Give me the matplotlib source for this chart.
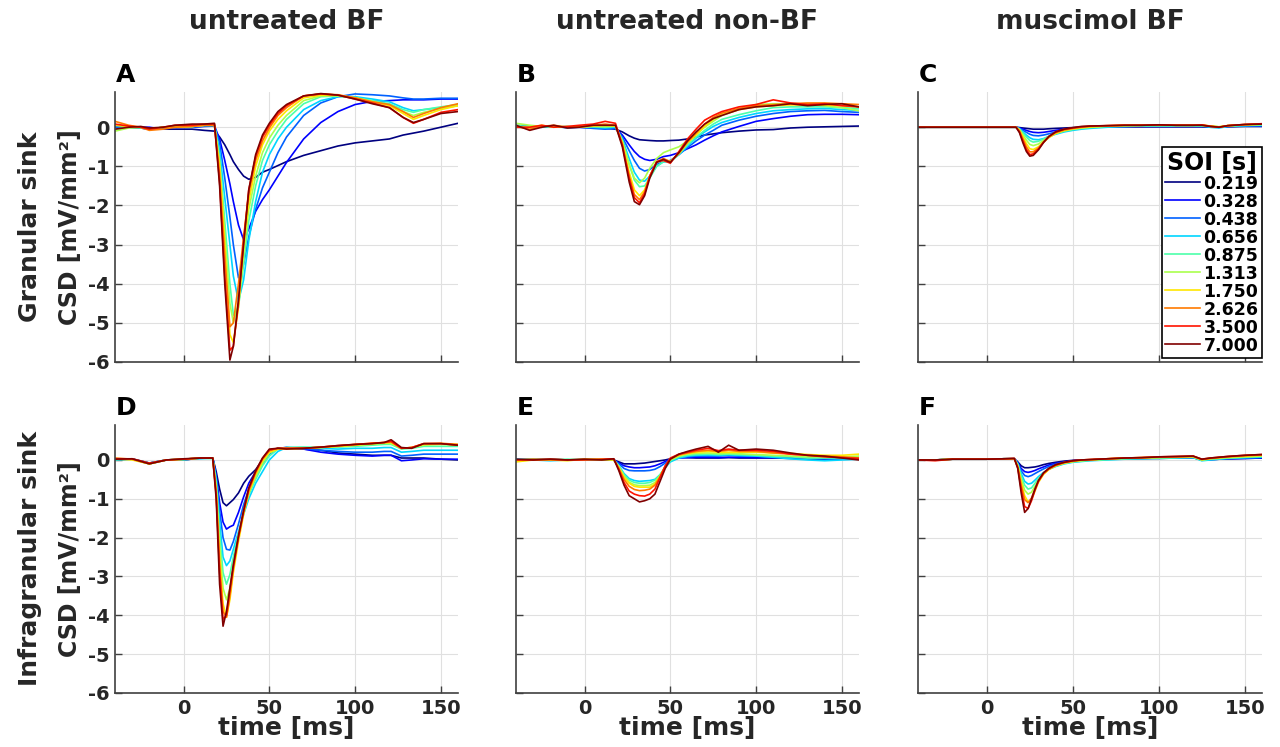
import numpy as np
import matplotlib
matplotlib.use("Agg")
import matplotlib.pyplot as plt

# ---- labels ----
soi = ['0.219', '0.328', '0.438', '0.656', '0.875',
       '1.313', '1.750', '2.626', '3.500', '7.000']
col_titles = ['untreated BF', 'untreated non-BF', 'muscimol BF']
row_labels = ['Granular sink', 'Infragranular sink']
panel_letters = ['A', 'B', 'C', 'D', 'E', 'F']

# ---- A: granular, untreated BF ----
t_A = [-40, -32, -25, -20, -12, -5, 5, 12, 18, 21, 24, 27, 29, 32, 35, 38, 42, 46,
       50, 55, 60, 70, 80, 90, 100, 110, 120, 128, 134, 140, 150, 160]
csd_A = [
    [0.0, 0.0, -0.02, -0.05, -0.05, -0.05, -0.05, -0.08, -0.1, -0.25, -0.45, -0.7, -0.88, -1.08, -1.25, -1.33,
     -1.28, -1.15, -1.08, -0.98, -0.88, -0.72, -0.6, -0.48, -0.4, -0.35, -0.3, -0.2, -0.15, -0.1, 0.0, 0.1],
    [0.05, 0.02, 0.0, 0.0, -0.05, 0.0, 0.0, 0.02, 0.03, -0.3, -0.85, -1.45, -1.9, -2.5, -2.88, -2.6,
     -2.15, -1.85, -1.6, -1.25, -0.9, -0.3, 0.12, 0.4, 0.58, 0.66, 0.68, 0.7, 0.7, 0.7, 0.72, 0.72],
    [0.0, 0.0, -0.02, -0.05, -0.02, 0.0, 0.0, 0.03, 0.03, -0.4, -1.3, -2.3, -3.0, -3.85, -3.5, -2.8,
     -2.1, -1.55, -1.15, -0.65, -0.25, 0.3, 0.62, 0.78, 0.85, 0.83, 0.8, 0.75, 0.72, 0.72, 0.74, 0.74],
    [0.05, 0.0, 0.0, -0.05, 0.0, 0.02, 0.02, 0.05, 0.05, -0.6, -1.8, -3.0, -3.8, -4.45, -3.9, -2.9,
     -1.9, -1.15, -0.7, -0.3, 0.0, 0.45, 0.68, 0.78, 0.78, 0.72, 0.65, 0.5, 0.42, 0.45, 0.5, 0.55],
    [-0.05, 0.0, -0.02, -0.05, 0.0, 0.02, 0.02, 0.05, 0.05, -0.8, -2.4, -4.0, -4.8, -4.6, -3.5, -2.4,
     -1.5, -0.85, -0.45, -0.1, 0.2, 0.6, 0.78, 0.8, 0.76, 0.68, 0.6, 0.45, 0.38, 0.45, 0.52, 0.58],
    [-0.1, -0.02, 0.0, -0.05, 0.0, 0.0, 0.02, 0.05, 0.05, -0.9, -2.7, -4.5, -5.0, -4.5, -3.2, -2.1,
     -1.25, -0.65, -0.28, 0.05, 0.3, 0.68, 0.8, 0.8, 0.75, 0.66, 0.56, 0.4, 0.3, 0.38, 0.48, 0.55],
    [0.05, 0.02, 0.0, -0.05, 0.0, 0.0, 0.02, 0.05, 0.05, -1.0, -3.0, -5.3, -5.5, -4.6, -3.1, -1.9,
     -1.0, -0.45, -0.1, 0.2, 0.42, 0.75, 0.82, 0.82, 0.75, 0.65, 0.55, 0.35, 0.2, 0.3, 0.45, 0.55],
    [0.15, 0.05, 0.0, -0.08, -0.05, 0.0, 0.02, 0.05, 0.05, -1.2, -3.3, -5.1, -5.0, -4.0, -2.8, -1.7,
     -0.85, -0.35, -0.02, 0.3, 0.5, 0.8, 0.85, 0.83, 0.75, 0.65, 0.58, 0.4, 0.25, 0.35, 0.5, 0.6],
    [0.08, 0.03, 0.0, -0.05, 0.0, 0.05, 0.05, 0.08, 0.08, -1.4, -3.8, -5.7, -5.6, -4.5, -2.9, -1.6,
     -0.75, -0.25, 0.05, 0.35, 0.55, 0.8, 0.85, 0.82, 0.72, 0.62, 0.5, 0.25, 0.1, 0.2, 0.38, 0.45],
    [-0.05, 0.0, 0.02, -0.02, 0.0, 0.05, 0.08, 0.08, 0.1, -1.5, -4.0, -5.95, -5.6, -4.4, -3.0, -1.6,
     -0.7, -0.2, 0.1, 0.4, 0.58, 0.8, 0.86, 0.82, 0.72, 0.6, 0.5, 0.25, 0.12, 0.2, 0.35, 0.4],
]

# ---- B: granular, untreated non-BF ----
t_B = [-40, -32, -25, -18, -10, -3, 5, 12, 18, 22, 26, 29, 32, 35, 38, 42, 46, 50,
       55, 60, 65, 70, 75, 80, 90, 100, 110, 120, 130, 140, 150, 160]
csd_B = [
    [0.0, 0.02, 0.0, 0.02, 0.0, 0.0, 0.0, -0.02, -0.05, -0.12, -0.22, -0.28, -0.32, -0.33, -0.34, -0.35,
     -0.35, -0.34, -0.33, -0.3, -0.25, -0.2, -0.17, -0.14, -0.1, -0.07, -0.06, -0.02, 0.0, 0.01, 0.02, 0.03],
    [0.02, 0.0, 0.0, 0.02, 0.0, 0.0, -0.02, -0.03, -0.03, -0.2, -0.45, -0.62, -0.75, -0.82, -0.85, -0.82,
     -0.75, -0.72, -0.65, -0.55, -0.45, -0.33, -0.22, -0.12, 0.02, 0.15, 0.22, 0.28, 0.32, 0.33, 0.33, 0.32],
    [0.05, 0.02, 0.0, 0.03, -0.02, 0.0, -0.03, -0.05, -0.03, -0.25, -0.6, -0.85, -1.05, -1.12, -1.08, -0.95,
     -0.88, -0.85, -0.7, -0.52, -0.35, -0.2, -0.08, 0.05, 0.18, 0.28, 0.35, 0.4, 0.42, 0.43, 0.4, 0.38],
    [0.0, 0.03, 0.0, 0.0, 0.02, 0.0, 0.0, -0.02, 0.0, -0.3, -0.8, -1.15, -1.35, -1.38, -1.25, -1.0,
     -0.88, -0.88, -0.7, -0.48, -0.28, -0.12, 0.02, 0.12, 0.25, 0.35, 0.42, 0.45, 0.47, 0.48, 0.45, 0.43],
    [0.05, 0.0, 0.03, 0.0, 0.0, 0.0, 0.02, 0.0, 0.02, -0.35, -0.95, -1.35, -1.52, -1.5, -1.3, -1.0,
     -0.88, -0.87, -0.68, -0.45, -0.25, -0.08, 0.08, 0.2, 0.32, 0.42, 0.5, 0.52, 0.52, 0.52, 0.5, 0.48],
    [0.1, 0.05, 0.02, 0.03, 0.0, 0.02, 0.02, 0.02, 0.03, -0.35, -0.95, -1.3, -1.42, -1.3, -1.05, -0.8,
     -0.65, -0.58, -0.5, -0.35, -0.18, 0.0, 0.15, 0.3, 0.45, 0.58, 0.6, 0.6, 0.6, 0.55, 0.5, 0.42],
    [0.0, 0.0, 0.05, 0.0, 0.02, 0.0, 0.03, 0.05, 0.03, -0.4, -1.15, -1.6, -1.75, -1.6, -1.25, -0.9,
     -0.82, -0.88, -0.68, -0.4, -0.2, 0.02, 0.2, 0.32, 0.45, 0.52, 0.55, 0.57, 0.57, 0.57, 0.55, 0.52],
    [0.02, -0.05, 0.02, 0.05, 0.0, 0.02, 0.05, 0.08, 0.05, -0.45, -1.25, -1.72, -1.85, -1.65, -1.25, -0.88,
     -0.8, -0.88, -0.66, -0.38, -0.15, 0.08, 0.25, 0.36, 0.48, 0.55, 0.58, 0.6, 0.62, 0.62, 0.6, 0.58],
    [0.0, 0.0, 0.05, 0.0, 0.02, 0.05, 0.08, 0.15, 0.1, -0.45, -1.3, -1.8, -1.93, -1.7, -1.25, -0.88,
     -0.85, -0.92, -0.62, -0.3, -0.05, 0.18, 0.3, 0.4, 0.52, 0.58, 0.7, 0.62, 0.58, 0.6, 0.55, 0.52],
    [0.05, -0.08, 0.0, 0.05, -0.02, 0.0, 0.05, 0.05, 0.05, -0.5, -1.4, -1.9, -1.98, -1.75, -1.3, -0.9,
     -0.82, -0.9, -0.65, -0.35, -0.12, 0.08, 0.22, 0.3, 0.45, 0.52, 0.55, 0.6, 0.55, 0.58, 0.6, 0.52],
]

# ---- C: granular, muscimol BF ----
t_C = [-40, -20, 0, 10, 17, 19, 21, 23, 25, 27, 30, 33, 36, 40, 45, 50, 55, 60,
       70, 80, 90, 100, 110, 120, 125, 130, 135, 140, 150, 160]
csd_C = [
    [0, 0, 0, 0, 0, -0.01, -0.02, -0.03, -0.04, -0.05, -0.05, -0.05, -0.04, -0.03, -0.02,
     -0.01, 0.0, 0.0, 0.01, 0.01, 0.01, 0.01, 0.01, 0.01, 0.01, 0.0, 0.0, 0.01, 0.02, 0.02],
    [0, 0, 0, 0, 0, -0.02, -0.05, -0.08, -0.11, -0.13, -0.14, -0.13, -0.11, -0.08, -0.05,
     -0.03, -0.01, 0.0, 0.01, 0.02, 0.02, 0.02, 0.02, 0.02, 0.02, 0.01, 0.0, 0.02, 0.03, 0.03],
    [0, 0, 0, 0, 0, -0.03, -0.08, -0.13, -0.18, -0.21, -0.22, -0.2, -0.17, -0.12, -0.08,
     -0.05, -0.02, 0.0, 0.02, 0.02, 0.03, 0.03, 0.03, 0.03, 0.03, 0.02, 0.01, 0.02, 0.03, 0.04],
    [0, 0, 0, 0, 0, -0.04, -0.12, -0.2, -0.27, -0.31, -0.32, -0.29, -0.24, -0.18, -0.12,
     -0.08, -0.05, -0.03, 0.0, 0.02, 0.03, 0.03, 0.03, 0.03, 0.03, 0.0, -0.02, 0.02, 0.04, 0.05],
    [0, 0, 0, 0, 0, -0.05, -0.15, -0.25, -0.34, -0.38, -0.36, -0.3, -0.23, -0.16, -0.1,
     -0.06, -0.03, -0.01, 0.02, 0.03, 0.04, 0.04, 0.04, 0.04, 0.04, 0.02, 0.0, 0.03, 0.05, 0.06],
    [0, 0, 0, 0, 0, -0.06, -0.2, -0.33, -0.44, -0.47, -0.43, -0.34, -0.25, -0.16, -0.09,
     -0.05, -0.02, 0.0, 0.03, 0.04, 0.05, 0.05, 0.05, 0.05, 0.05, 0.03, 0.01, 0.04, 0.06, 0.07],
    [0, 0, 0, 0, 0, -0.08, -0.25, -0.42, -0.55, -0.57, -0.5, -0.38, -0.27, -0.16, -0.08,
     -0.04, -0.01, 0.01, 0.03, 0.05, 0.05, 0.05, 0.05, 0.05, 0.05, 0.03, 0.01, 0.04, 0.06, 0.08],
    [0, 0, 0, 0, 0, -0.1, -0.3, -0.5, -0.63, -0.63, -0.53, -0.38, -0.25, -0.14, -0.07,
     -0.03, 0.0, 0.02, 0.04, 0.05, 0.05, 0.06, 0.05, 0.05, 0.06, 0.03, 0.0, 0.04, 0.07, 0.08],
    [0, 0, 0, 0, 0, -0.12, -0.35, -0.57, -0.7, -0.68, -0.56, -0.38, -0.24, -0.12, -0.05,
     -0.02, 0.01, 0.03, 0.04, 0.05, 0.05, 0.06, 0.05, 0.05, 0.06, 0.02, 0.0, 0.04, 0.07, 0.09],
    [0, 0, 0, 0, 0, -0.14, -0.4, -0.62, -0.74, -0.72, -0.58, -0.39, -0.24, -0.12, -0.05,
     -0.01, 0.02, 0.03, 0.04, 0.05, 0.05, 0.06, 0.05, 0.05, 0.05, 0.02, 0.0, 0.04, 0.07, 0.08],
]

# ---- D: infragranular, untreated BF ----
t_D = [-40, -30, -20, -10, 0, 10, 17, 19, 21, 23, 25, 27, 29, 32, 35, 38, 42, 46, 50,
       55, 60, 70, 80, 90, 100, 110, 117, 121, 127, 133, 140, 150, 160]
csd_D = [
    [0.0, 0.03, -0.08, 0.0, 0.0, 0.05, 0.05, -0.3, -0.75, -1.1, -1.18, -1.1, -1.02, -0.85, -0.6, -0.42, -0.25,
     0.0, 0.22, 0.3, 0.3, 0.28, 0.25, 0.18, 0.15, 0.12, 0.12, 0.12, 0.05, 0.05, 0.05, 0.02, 0.0],
    [0.02, 0.02, -0.1, 0.0, 0.0, 0.05, 0.05, -0.4, -1.1, -1.6, -1.78, -1.72, -1.68, -1.35, -0.95, -0.6, -0.3,
     0.0, 0.2, 0.3, 0.32, 0.28, 0.2, 0.15, 0.12, 0.1, 0.12, 0.12, -0.02, 0.0, 0.03, 0.02, 0.02],
    [0.0, 0.02, -0.08, 0.0, 0.02, 0.05, 0.05, -0.45, -1.3, -2.0, -2.3, -2.32, -2.1, -1.65, -1.15, -0.75, -0.4,
     -0.1, 0.15, 0.3, 0.32, 0.3, 0.25, 0.22, 0.2, 0.2, 0.22, 0.22, 0.1, 0.12, 0.15, 0.15, 0.15],
    [0.02, 0.02, -0.08, 0.0, 0.02, 0.03, 0.05, -0.5, -1.6, -2.5, -2.72, -2.6, -2.3, -1.85, -1.4, -1.0, -0.6,
     -0.3, 0.0, 0.22, 0.32, 0.32, 0.3, 0.28, 0.3, 0.3, 0.32, 0.32, 0.2, 0.22, 0.25, 0.25, 0.25],
    [0.0, 0.02, -0.1, 0.0, 0.0, 0.05, 0.03, -0.6, -1.9, -2.9, -3.2, -2.95, -2.5, -1.9, -1.35, -0.9, -0.5,
     -0.15, 0.1, 0.28, 0.32, 0.33, 0.33, 0.33, 0.35, 0.38, 0.4, 0.4, 0.28, 0.3, 0.35, 0.35, 0.35],
    [0.02, 0.02, -0.1, 0.0, 0.02, 0.05, 0.05, -0.7, -2.2, -3.3, -3.6, -3.3, -2.75, -2.0, -1.35, -0.85, -0.42,
     -0.08, 0.18, 0.28, 0.3, 0.3, 0.32, 0.35, 0.38, 0.4, 0.43, 0.42, 0.3, 0.32, 0.38, 0.4, 0.38],
    [0.03, 0.0, -0.1, 0.0, 0.02, 0.05, 0.05, -0.8, -2.5, -3.7, -4.05, -3.6, -2.9, -2.1, -1.4, -0.85, -0.38,
     -0.02, 0.2, 0.28, 0.28, 0.3, 0.32, 0.35, 0.38, 0.42, 0.44, 0.45, 0.3, 0.32, 0.4, 0.42, 0.4],
    [0.05, 0.02, -0.1, 0.0, 0.02, 0.05, 0.05, -0.85, -2.7, -3.9, -4.05, -3.5, -2.8, -2.0, -1.35, -0.8, -0.33,
     0.02, 0.24, 0.3, 0.3, 0.3, 0.33, 0.36, 0.4, 0.43, 0.45, 0.47, 0.3, 0.32, 0.42, 0.43, 0.4],
    [0.03, 0.03, -0.08, 0.0, 0.02, 0.05, 0.05, -0.9, -2.9, -4.1, -4.0, -3.35, -2.75, -1.98, -1.32, -0.75, -0.3,
     0.04, 0.26, 0.3, 0.3, 0.3, 0.33, 0.37, 0.4, 0.43, 0.45, 0.48, 0.3, 0.32, 0.42, 0.42, 0.38],
    [0.02, 0.03, -0.1, 0.0, 0.03, 0.05, 0.05, -1.0, -3.2, -4.28, -3.9, -3.3, -2.7, -1.95, -1.3, -0.72, -0.28,
     0.05, 0.28, 0.3, 0.28, 0.3, 0.33, 0.37, 0.4, 0.42, 0.45, 0.52, 0.32, 0.3, 0.42, 0.42, 0.38],
]

# ---- E: infragranular, untreated non-BF ----
t_E = [-40, -30, -20, -10, 0, 10, 17, 20, 23, 26, 29, 32, 35, 38, 41, 44, 47, 50,
       55, 60, 65, 72, 78, 84, 90, 100, 110, 120, 130, 140, 150, 160]
csd_E = [
    [0.0, 0.02, 0.0, 0.0, 0.0, 0.0, 0.0, -0.05, -0.1, -0.1, -0.1, -0.09, -0.08, -0.06, -0.04, -0.02,
     0.0, 0.03, 0.07, 0.06, 0.05, 0.05, 0.05, 0.06, 0.05, 0.05, 0.05, 0.04, 0.03, 0.02, 0.02, 0.02],
    [0.0, 0.0, 0.02, 0.0, 0.0, 0.0, 0.0, -0.08, -0.15, -0.18, -0.2, -0.2, -0.19, -0.18, -0.15, -0.1,
     -0.04, 0.02, 0.05, 0.06, 0.07, 0.07, 0.06, 0.07, 0.07, 0.06, 0.06, 0.05, 0.04, 0.03, 0.02, 0.02],
    [0.02, 0.0, 0.0, 0.0, 0.0, 0.02, 0.0, -0.1, -0.22, -0.27, -0.28, -0.28, -0.28, -0.27, -0.24, -0.17,
     -0.08, 0.0, 0.05, 0.08, 0.1, 0.1, 0.1, 0.12, 0.1, 0.1, 0.08, 0.06, 0.05, 0.03, 0.02, 0.02],
    [0.02, 0.0, -0.02, 0.0, 0.02, 0.0, 0.0, -0.15, -0.35, -0.48, -0.53, -0.55, -0.54, -0.53, -0.5, -0.38,
     -0.2, -0.05, 0.05, 0.1, 0.12, 0.13, 0.12, 0.13, 0.12, 0.1, 0.07, 0.03, 0.0, -0.02, 0.0, 0.02],
    [0.0, 0.02, 0.0, 0.02, 0.0, 0.0, 0.0, -0.15, -0.38, -0.52, -0.58, -0.6, -0.6, -0.58, -0.52, -0.38,
     -0.18, -0.02, 0.08, 0.12, 0.14, 0.15, 0.14, 0.15, 0.14, 0.12, 0.1, 0.08, 0.05, 0.05, 0.05, 0.06],
    [-0.02, 0.0, 0.02, 0.0, 0.0, 0.02, 0.0, -0.18, -0.42, -0.57, -0.64, -0.66, -0.66, -0.65, -0.58, -0.4,
     -0.18, 0.0, 0.1, 0.15, 0.17, 0.18, 0.16, 0.17, 0.16, 0.14, 0.12, 0.1, 0.08, 0.08, 0.08, 0.1],
    [-0.05, 0.0, 0.0, -0.02, 0.02, 0.02, 0.0, -0.2, -0.45, -0.6, -0.68, -0.7, -0.7, -0.7, -0.62, -0.42,
     -0.17, 0.02, 0.12, 0.17, 0.2, 0.22, 0.2, 0.2, 0.2, 0.2, 0.18, 0.17, 0.14, 0.12, 0.12, 0.15],
    [0.0, 0.02, 0.0, 0.0, 0.02, 0.0, 0.02, -0.22, -0.5, -0.68, -0.76, -0.79, -0.78, -0.75, -0.65, -0.43,
     -0.16, 0.03, 0.13, 0.18, 0.22, 0.25, 0.22, 0.25, 0.22, 0.22, 0.18, 0.15, 0.12, 0.1, 0.08, 0.05],
    [0.0, 0.0, 0.02, 0.0, 0.0, 0.02, 0.03, -0.25, -0.58, -0.8, -0.88, -0.92, -0.93, -0.88, -0.75, -0.45,
     -0.15, 0.05, 0.15, 0.2, 0.25, 0.3, 0.24, 0.28, 0.25, 0.25, 0.22, 0.15, 0.12, 0.08, 0.06, 0.04],
    [0.02, 0.0, 0.02, 0.0, 0.02, 0.0, 0.03, -0.28, -0.65, -0.92, -1.0, -1.08, -1.05, -1.0, -0.88, -0.55,
     -0.22, 0.02, 0.15, 0.22, 0.28, 0.35, 0.2, 0.38, 0.25, 0.28, 0.25, 0.18, 0.12, 0.1, 0.05, 0.0],
]

# ---- F: infragranular, muscimol BF ----
t_F = [-40, -30, -20, -10, 0, 10, 16, 18, 20, 22, 24, 26, 28, 30, 33, 36, 40, 45,
       50, 55, 60, 70, 80, 90, 100, 110, 120, 125, 130, 140, 150, 160]
csd_F = [
    [0, 0, 0.02, 0.02, 0.02, 0.03, 0.03, -0.05, -0.15, -0.2, -0.2, -0.19, -0.18, -0.16, -0.12, -0.09,
     -0.06, -0.03, -0.01, 0.0, 0.0, 0.02, 0.03, 0.04, 0.04, 0.05, 0.06, 0.0, 0.01, 0.03, 0.04, 0.05],
    [0, 0, 0.02, 0.02, 0.02, 0.03, 0.03, -0.07, -0.22, -0.3, -0.32, -0.3, -0.27, -0.23, -0.18, -0.13,
     -0.09, -0.05, -0.02, 0.0, 0.0, 0.02, 0.03, 0.04, 0.05, 0.05, 0.06, 0.0, 0.01, 0.03, 0.04, 0.05],
    [0, 0, 0.02, 0.02, 0.02, 0.03, 0.03, -0.08, -0.28, -0.4, -0.43, -0.4, -0.35, -0.3, -0.23, -0.17,
     -0.11, -0.06, -0.03, -0.01, 0.0, 0.02, 0.03, 0.04, 0.05, 0.06, 0.07, 0.0, 0.02, 0.04, 0.05, 0.07],
    [0, 0, 0.02, 0.02, 0.02, 0.03, 0.03, -0.1, -0.35, -0.55, -0.62, -0.6, -0.52, -0.43, -0.32, -0.24,
     -0.17, -0.1, -0.06, -0.04, -0.02, 0.0, 0.02, 0.03, 0.04, 0.05, 0.06, -0.02, 0.0, 0.04, 0.06, 0.07],
    [0, 0, 0.02, 0.02, 0.02, 0.03, 0.03, -0.12, -0.42, -0.65, -0.75, -0.72, -0.6, -0.48, -0.34, -0.24,
     -0.16, -0.09, -0.05, -0.03, -0.01, 0.01, 0.03, 0.04, 0.05, 0.06, 0.07, -0.01, 0.02, 0.05, 0.07, 0.09],
    [0, 0, 0.02, 0.02, 0.02, 0.03, 0.03, -0.14, -0.5, -0.78, -0.88, -0.83, -0.68, -0.52, -0.35, -0.24,
     -0.15, -0.08, -0.04, -0.02, 0.0, 0.02, 0.04, 0.05, 0.06, 0.07, 0.08, 0.0, 0.03, 0.06, 0.08, 0.1],
    [0, 0, 0.02, 0.02, 0.02, 0.03, 0.03, -0.16, -0.58, -0.92, -1.08, -1.02, -0.8, -0.58, -0.37, -0.25,
     -0.15, -0.08, -0.04, -0.01, 0.0, 0.03, 0.05, 0.06, 0.07, 0.08, 0.09, 0.01, 0.04, 0.08, 0.1, 0.12],
    [0, 0, 0.02, 0.02, 0.02, 0.03, 0.03, -0.18, -0.65, -1.02, -1.1, -0.98, -0.75, -0.55, -0.35, -0.24,
     -0.14, -0.07, -0.03, 0.0, 0.01, 0.03, 0.05, 0.06, 0.07, 0.08, 0.09, 0.01, 0.04, 0.08, 0.11, 0.13],
    [0, -0.02, 0.02, 0.02, 0.02, 0.03, 0.04, -0.2, -0.75, -1.2, -1.25, -1.05, -0.78, -0.55, -0.34, -0.22,
     -0.13, -0.06, -0.02, 0.0, 0.01, 0.03, 0.05, 0.06, 0.08, 0.09, 0.1, 0.02, 0.05, 0.09, 0.12, 0.14],
    [0, 0, 0.02, 0.02, 0.02, 0.03, 0.04, -0.22, -0.85, -1.35, -1.25, -1.0, -0.75, -0.53, -0.33, -0.22,
     -0.12, -0.06, -0.02, 0.0, 0.01, 0.03, 0.05, 0.06, 0.08, 0.09, 0.1, 0.02, 0.05, 0.09, 0.12, 0.14],
]

panels = [(t_A, csd_A), (t_B, csd_B), (t_C, csd_C),
          (t_D, csd_D), (t_E, csd_E), (t_F, csd_F)]

plt.rcParams['font.family'] = ['DejaVu Sans']
plt.rcParams['font.weight'] = 'bold'
plt.rcParams['axes.unicode_minus'] = False

colors = plt.cm.jet(np.linspace(0, 1, len(soi)))
text_col = '#262626'

W, H = 1280, 747
col_px = [(115, 458), (516, 859), (918, 1262)]
row_px = [(92, 362), (425, 693)]

fig = plt.figure(figsize=(W / 100, H / 100), dpi=100)

axes = []
for r, (y0, y1) in enumerate(row_px):
    for c, (x0, x1) in enumerate(col_px):
        ax = fig.add_axes([x0 / W, 1 - y1 / H, (x1 - x0) / W, (y1 - y0) / H])
        t, curves = panels[r * 3 + c]
        for k, y in enumerate(curves):
            ax.plot(t, y, color=colors[k], lw=1.2, label=soi[k])
        ax.set_xlim(-40, 160)
        ax.set_ylim(-6, 0.9)
        ax.set_xticks([0, 50, 100, 150])
        ax.set_yticks(range(-6, 1))
        ax.grid(True, color='#e0e0e0', lw=0.8)
        ax.set_axisbelow(True)
        for s in ['top', 'right']:
            ax.spines[s].set_visible(False)
        for s in ['left', 'bottom']:
            ax.spines[s].set_color('#404040')
            ax.spines[s].set_linewidth(1.2)
        ax.tick_params(direction='in', length=5, width=1, color='#404040',
                       labelcolor=text_col, labelsize=14, pad=4)
        if r == 0:
            ax.set_xticklabels([])
        if c > 0:
            ax.set_yticklabels([])
        ax.text(0.003, 1.02, panel_letters[r * 3 + c], transform=ax.transAxes,
                ha='left', va='bottom', fontsize=18, color='black')
        axes.append(ax)

# column titles
for c, (x0, x1) in enumerate(col_px):
    fig.text((x0 + x1) / 2 / W, 1 - 22 / H, col_titles[c], ha='center', va='center',
             fontsize=19, color=text_col)
    fig.text((x0 + x1) / 2 / W, 1 - 728 / H, 'time [ms]', ha='center', va='center',
             fontsize=18, color=text_col)

# row labels
for r, (y0, y1) in enumerate(row_px):
    yc = 1 - (y0 + y1) / 2 / H
    fig.text(30 / W, yc, row_labels[r], rotation=90, ha='center', va='center',
             fontsize=18, color=text_col)
    fig.text(70 / W, yc, 'CSD [mV/mm²]', rotation=90, ha='center', va='center',
             fontsize=17, color=text_col)

leg = axes[2].legend(title='SOI [s]', loc='upper right', bbox_to_anchor=(1.0, 0.796),
                     borderaxespad=0, fontsize=12.5, title_fontsize=17, labelspacing=0.0,
                     handlelength=2.0, handletextpad=0.2, borderpad=0.2,
                     fancybox=False, edgecolor='black', framealpha=1)
leg.get_frame().set_linewidth(1.2)

fig.savefig('out.png', dpi=100)
